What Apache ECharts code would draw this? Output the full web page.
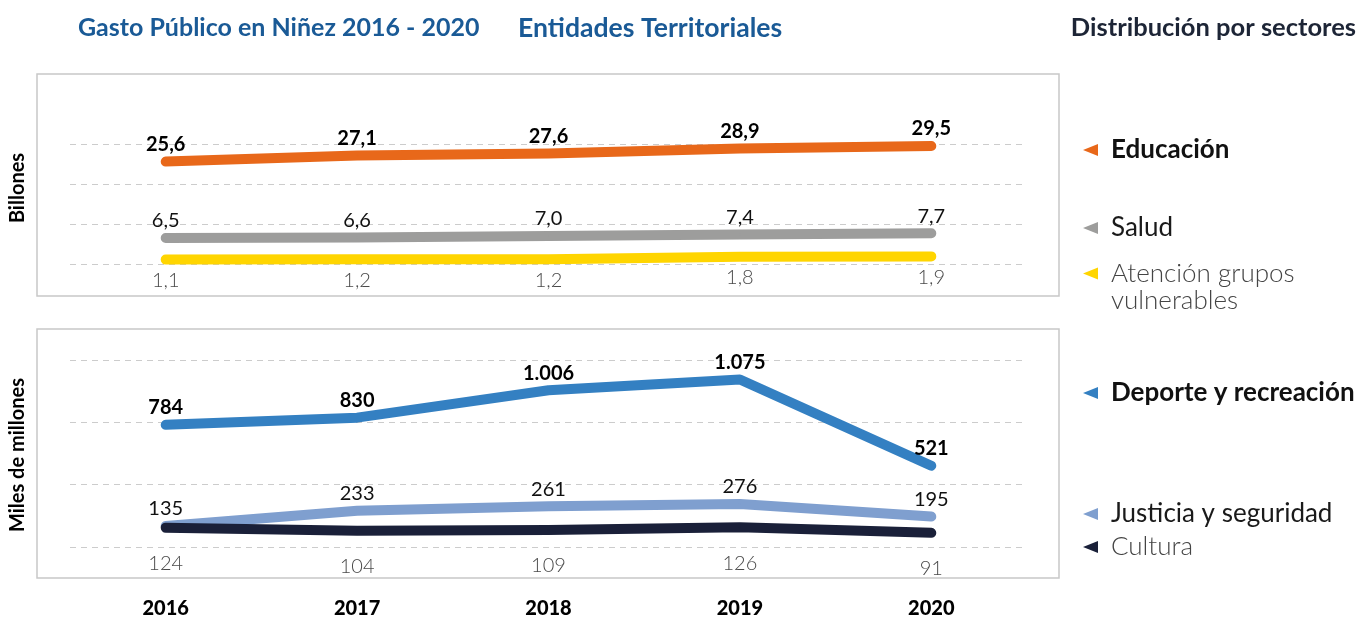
<!DOCTYPE html>
<html>
<head>
<meta charset="utf-8">
<script src="https://cdn.jsdelivr.net/npm/echarts@6/dist/echarts.min.js"></script>
<style>
html,body{margin:0;padding:0;background:#fff;}
#chart{width:1358px;height:619px;}
</style>
</head>
<body>
<div id="chart"></div>
<script>
// ---- data ----
const years = ['2016', '2017', '2018', '2019', '2020'];
const educacion = [25.6, 27.1, 27.6, 28.9, 29.5];
const salud = [6.5, 6.6, 7.0, 7.4, 7.7];
const atencion = [1.1, 1.2, 1.2, 1.8, 1.9];
const deporte = [784, 830, 1006, 1075, 521];
const justicia = [135, 233, 261, 276, 195];
const cultura = [124, 104, 109, 126, 91];
const topTicks = [0, 10, 20, 30];
const bottomTicks = [0, 400, 800, 1200];

const FONT = 'Lato';
const fmtDec = p => p.value.toFixed(1).replace('.', ',');
const fmtInt = p => String(p.value).replace(/\B(?=(\d{3})+(?!\d))/g, '.');

const COLORS = {
  edu: '#e8681a', salud: '#9d9d9c', aten: '#ffd500',
  dep: '#3480c2', jus: '#7f9fcf', cul: '#1a2039'
};

function lineSeries(name, data, color, axisIdx, label, z) {
  return {
    name, type: 'line', data,
    xAxisIndex: axisIdx, yAxisIndex: axisIdx,
    symbol: 'circle', symbolSize: 2, showSymbol: true, smooth: false, z: z,
    lineStyle: { width: 10, color, cap: 'round', join: 'round' },
    itemStyle: { color },
    label: Object.assign({ show: true, fontFamily: FONT }, label),
    emphasis: { disabled: true }
  };
}

const labBold = fmt => ({ position: 'top', distance: 6, fontSize: 20, fontWeight: 'bold', color: '#000', formatter: fmt });
const labNorm = fmt => ({ position: 'top', distance: 6, fontSize: 20, fontWeight: 'normal', color: '#111', formatter: fmt });
const labLight = (fmt, d) => ({ position: 'bottom', distance: d, fontSize: 20, fontWeight: 300, color: '#4a4a4a', formatter: fmt });

const tri = 'path://M15,0L15,12L0,6Z';
function legendItem(name, top, weight, color, text) {
  return {
    top: top, left: 1078, orient: 'vertical', selectedMode: false,
    icon: tri, itemWidth: 15, itemHeight: 12,
    data: [name],
    formatter: text ? (() => text) : undefined,
    textStyle: { fontFamily: FONT, fontSize: 26, fontWeight: weight, color: color,
      lineHeight: 27, padding: [0, 0, 0, 8] }
  };
}

const gridX = { left: 70, width: 957 };

const option = {
  animation: false,
  title: [
    { text: 'Gasto Público en Niñez 2016 - 2020', left: 73, top: 10,
      textStyle: { fontFamily: FONT, fontSize: 25, fontWeight: 'bold', color: '#1a5a96' } },
    { text: 'Entidades Territoriales', left: 513, top: 10,
      textStyle: { fontFamily: FONT, fontSize: 26.6, fontWeight: 'bold', color: '#1a5a96' } },
    { text: 'Distribución por sectores', right: 0, top: 10, padding: [5, 2, 5, 5],
      textStyle: { fontFamily: FONT, fontSize: 25.5, fontWeight: 'bold', color: '#1d2536' } }
  ],
  legend: [
    legendItem('Educación', 131.5, 'bold', '#111'),
    legendItem('Salud', 209.5, 'normal', '#1a1a1a'),
    legendItem('Atención grupos vulnerables', 228, 300, '#444', '\nAtención grupos\nvulnerables'),
    legendItem('Deporte y recreación', 374.5, 'bold', '#111'),
    legendItem('Justicia y seguridad', 495.5, 'normal', '#1a1a1a'),
    legendItem('Cultura', 528.5, 300, '#444')
  ],
  grid: [
    Object.assign({ top: 144, height: 120 }, gridX),
    Object.assign({ top: 360, height: 189 }, gridX)
  ],
  xAxis: [0, 1].map(i => ({
    type: 'category', gridIndex: i, data: years, boundaryGap: true,
    axisLine: { show: false }, axisTick: { show: false },
    axisLabel: i === 0 ? { show: false } : {
      show: true, margin: 52, fontFamily: FONT, fontSize: 20, fontWeight: 900, color: '#000'
    }
  })),
  yAxis: [
    { type: 'value', gridIndex: 0, min: topTicks[0], max: topTicks[topTicks.length - 1], interval: topTicks[1] - topTicks[0],
      axisLine: { show: false }, axisTick: { show: false }, axisLabel: { show: false },
      splitLine: { show: true, lineStyle: { color: '#cccccc', type: [6, 5], width: 1 } } },
    { type: 'value', gridIndex: 1, min: bottomTicks[0], max: bottomTicks[bottomTicks.length - 1], interval: bottomTicks[1] - bottomTicks[0],
      axisLine: { show: false }, axisTick: { show: false }, axisLabel: { show: false },
      splitLine: { show: true, lineStyle: { color: '#cccccc', type: [6, 5], width: 1 } } }
  ],
  graphic: [
    { type: 'rect', shape: { x: 37, y: 74, width: 1022, height: 222 }, silent: true,
      style: { fill: 'none', stroke: '#c8c8c8', lineWidth: 1.5 }, z: -10 },
    { type: 'rect', shape: { x: 37, y: 329, width: 1022, height: 249 }, silent: true,
      style: { fill: 'none', stroke: '#c8c8c8', lineWidth: 1.5 }, z: -10 },
    { type: 'text', x: 18, y: 188, rotation: Math.PI / 2, silent: true,
      style: { text: 'Billones', fontFamily: FONT, fontSize: 20, fontWeight: 'bold', fill: '#000',
        align: 'center', verticalAlign: 'middle' } },
    { type: 'text', x: 18, y: 455, rotation: Math.PI / 2, silent: true,
      style: { text: 'Miles de millones', fontFamily: FONT, fontSize: 20, fontWeight: 'bold', fill: '#000',
        align: 'center', verticalAlign: 'middle' } }
  ],
  series: [
    lineSeries('Educación', educacion, COLORS.edu, 0, labBold(fmtDec), 5),
    lineSeries('Salud', salud, COLORS.salud, 0, labNorm(fmtDec), 4),
    lineSeries('Atención grupos vulnerables', atencion, COLORS.aten, 0, labLight(fmtDec, 10), 3),
    lineSeries('Deporte y recreación', deporte, COLORS.dep, 1, labBold(fmtInt), 5),
    lineSeries('Justicia y seguridad', justicia, COLORS.jus, 1, labNorm(fmtInt), 3),
    lineSeries('Cultura', cultura, COLORS.cul, 1, labLight(fmtInt, 25), 4)
  ]
};

const chart = echarts.init(document.getElementById('chart'), null, { renderer: 'canvas' });
chart.setOption(option);
</script>
</body>
</html>
